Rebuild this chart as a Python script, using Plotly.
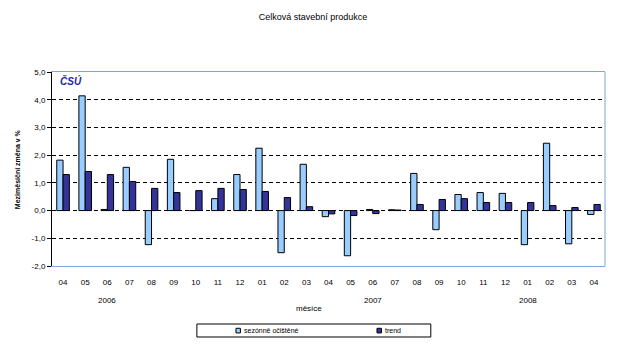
import plotly.graph_objects as go

months = ["04", "05", "06", "07", "08", "09", "10", "11", "12",
          "01", "02", "03", "04", "05", "06", "07", "08", "09", "10", "11", "12",
          "01", "02", "03", "04"]
seasonal = [1.82, 4.14, 0.04, 1.56, -1.23, 1.85, 0.0, 0.43, 1.30,
            2.25, -1.52, 1.67, -0.22, -1.63, 0.04, 0.03, 1.34, -0.69, 0.58, 0.65, 0.62,
            -1.23, 2.43, -1.20, -0.14]
trend = [1.30, 1.41, 1.30, 1.05, 0.80, 0.65, 0.72, 0.80, 0.76,
         0.69, 0.47, 0.14, -0.12, -0.18, -0.11, 0.02, 0.22, 0.40, 0.43, 0.29, 0.29,
         0.29, 0.18, 0.11, 0.22]
years = [("2006", 2), ("2007", 14), ("2008", 21)]
yticks = [-2, -1, 0, 1, 2, 3, 4, 5]
yticktext = ["-2,0", "-1,0", "0,0", "1,0", "2,0", "3,0", "4,0", "5,0"]
series_names = ["sezónně očištěné", "trend"]
series_colors = ["#99CCFF", "#333399"]

x = list(range(len(months)))
FONT = "Arial, Liberation Sans, sans-serif"

fig = go.Figure()
for name, vals, col in zip(series_names, [seasonal, trend], series_colors):
    fig.add_trace(go.Bar(x=x, y=vals, name=name,
                         marker=dict(color=col, line=dict(color="black", width=1))))

fig.update_layout(
    width=626, height=345,
    margin=dict(l=52, r=21, t=72, b=79),
    paper_bgcolor="white", plot_bgcolor="white",
    font=dict(family=FONT, size=8, color="black"),
    barmode="group", bargap=0.43, bargroupgap=0,
    title=dict(text="Celková stavební produkce", x=0.5, xref="container",
               y=0.95, yanchor="middle", font=dict(size=9, color="black")),
    showlegend=False,
)
fig.update_xaxes(range=[-0.5, len(months) - 0.5], tickvals=x, ticktext=months,
                 showgrid=False, zeroline=False, showline=True, mirror=True,
                 linecolor="#7EA6D8", linewidth=1, ticks="", ticklabelstandoff=8,
                 tickfont=dict(size=8), automargin=False)
fig.update_yaxes(range=[-2, 5], tickvals=yticks, ticktext=yticktext,
                 showgrid=True, gridcolor="black", griddash="4px,3px", gridwidth=1,
                 zeroline=False, showline=True, linecolor="black", linewidth=1,
                 ticks="outside", ticklen=4, tickcolor="black", tickfont=dict(size=8),
                 automargin=False)
fig.add_shape(type="line", xref="paper", yref="paper", x0=1, x1=1, y0=0, y1=1,
              line=dict(color="#7EA6D8", width=1))

for label, pos in years:
    fig.add_annotation(x=pos, y=-0.178, xref="x", yref="paper", yanchor="middle",
                       text=label, showarrow=False, font=dict(size=8))
fig.add_annotation(x=0.465, y=-0.218, xref="paper", yref="paper", yanchor="middle",
                   text="měsíce", showarrow=False, font=dict(size=8))
fig.add_annotation(x=-0.073, y=0.5, xref="paper", yref="paper",
                   text="<b>Meziměsíční změna v %</b>", textangle=-90,
                   showarrow=False, font=dict(size=7))
fig.add_annotation(x=0.01, y=0.995, xref="paper", yref="paper", xanchor="left",
                   yanchor="top", text="<b><i>ČSÚ</i></b>", showarrow=False,
                   font=dict(size=10, color="#1C2A9C"))

# legend (drawn manually to match the compact box)
fig.add_shape(type="rect", xref="paper", yref="paper", x0=0.262, x1=0.685,
              y0=-0.366, y1=-0.299, line=dict(color="black", width=1),
              fillcolor="white")
leg_x = [0.3327, 0.5877]
for name, col, lx in zip(series_names, series_colors, leg_x):
    fig.add_shape(type="rect", xref="paper", yref="paper", x0=lx, x1=lx + 0.008,
                  y0=-0.345, y1=-0.321, line=dict(color="black", width=1),
                  fillcolor=col)
    fig.add_annotation(x=lx + 0.011, y=-0.333, xref="paper", yref="paper",
                       xanchor="left", yanchor="middle", text=name,
                       showarrow=False, font=dict(size=7))

fig.write_html("out.html")
